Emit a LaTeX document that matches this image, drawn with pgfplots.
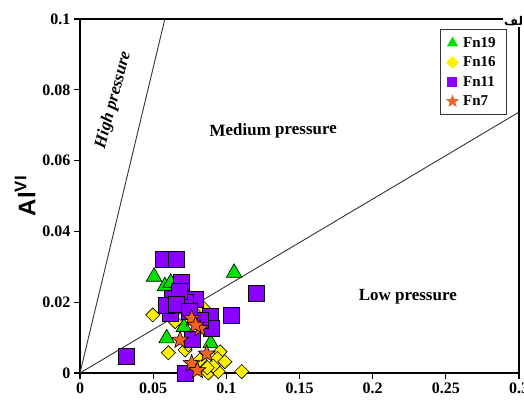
\documentclass[border=0pt]{standalone}
\usepackage{pgfplots}
\pgfplotsset{compat=1.18}
\usepackage{fontspec}
\setmainfont{Liberation Serif}
\newfontfamily\arialfont{Liberation Sans}
\newfontfamily\arabicfont[Script=Arabic]{DejaVu Sans}
\TeXXeTstate=1
\usetikzlibrary{plotmarks}
\definecolor{fgreen}{RGB}{0,225,0}
\definecolor{fyellow}{RGB}{255,240,0}
\definecolor{fpurple}{RGB}{140,0,255}
\definecolor{forange}{RGB}{240,100,30}
\pgfdeclareplotmark{fstar}{%
  \pgfpathmoveto{\pgfpointpolar{90}{\pgfplotmarksize}}%
  \pgfpathlineto{\pgfpointpolar{126}{0.42\pgfplotmarksize}}%
  \pgfpathlineto{\pgfpointpolar{162}{\pgfplotmarksize}}%
  \pgfpathlineto{\pgfpointpolar{198}{0.42\pgfplotmarksize}}%
  \pgfpathlineto{\pgfpointpolar{234}{\pgfplotmarksize}}%
  \pgfpathlineto{\pgfpointpolar{270}{0.42\pgfplotmarksize}}%
  \pgfpathlineto{\pgfpointpolar{306}{\pgfplotmarksize}}%
  \pgfpathlineto{\pgfpointpolar{342}{0.42\pgfplotmarksize}}%
  \pgfpathlineto{\pgfpointpolar{18}{\pgfplotmarksize}}%
  \pgfpathlineto{\pgfpointpolar{54}{0.42\pgfplotmarksize}}%
  \pgfpathclose
  \pgfusepathqfillstroke}
\begin{document}
\begin{tikzpicture}
\begin{axis}[
  at={(0,0)}, anchor=south west,
  scale only axis, width=439pt, height=354pt,
  xmin=0, xmax=0.3, ymin=0, ymax=0.1,
  xtick={0,0.05,0.1,0.15,0.2,0.25,0.3},
  ytick={0,0.02,0.04,0.06,0.08,0.1},
  scaled ticks=false,
  /pgf/number format/fixed,
  /pgf/number format/precision=2,
  /pgf/number format/assume math mode=true,
  ticklabel style={font=\fontsize{16}{18}\selectfont\bfseries},
  xtick pos=bottom, ytick pos=left,
  tick align=outside,
  major tick length=6pt,
  tick style={line width=1.2pt, black},
  axis line style={line width=1.4pt},
  clip=false,
  ylabel={Al\textsuperscript{VI}},
  ylabel style={font=\arialfont\bfseries\fontsize{24}{26}\selectfont, at={(axis description cs:-0.125,0.5)}, anchor=center, rotate=0},
  legend cell align=left,
  legend style={at={(0.973,0.972)}, anchor=north east, draw=black!80, line width=1pt,
    font=\fontsize{15}{17}\selectfont\bfseries, row sep=4pt, inner xsep=6pt, inner ysep=6pt,
    nodes={inner xsep=5pt}},
]
% boundary lines
\addplot[black!80, line width=0.9pt, forget plot] coordinates {(0,0) (0.058,0.1)};
\addplot[black!80, line width=0.9pt, forget plot] coordinates {(0,0) (0.3,0.0737)};

\addlegendimage{only marks, mark=triangle*, mark size=5.5pt, mark options={fill=fgreen, draw=fgreen}}
\addlegendentry{Fn19}
\addlegendimage{only marks, mark=square*, mark size=4pt, mark options={rotate=45, fill=fyellow, draw=fyellow}}
\addlegendentry{Fn16}
\addlegendimage{only marks, mark=square*, mark size=4.5pt, mark options={fill=fpurple, draw=fpurple}}
\addlegendentry{Fn11}
\addlegendimage{only marks, mark=fstar, mark size=5.5pt, mark options={fill=forange, draw=forange}}
\addlegendentry{Fn7}

% Fn19
\addplot[only marks, mark=triangle*, mark size=9pt, mark options={fill=fgreen, draw=black, line width=0.6pt}, forget plot] coordinates {
(0.0506,0.0272) (0.1053,0.0283) (0.0592,0.0098) (0.058,0.0245) (0.071,0.013) (0.0893,0.0084) (0.073,0.022) (0.062,0.0255)
};
% Fn16
\addplot[only marks, mark=square*, mark size=5pt, mark options={rotate=45, fill=fyellow, draw=black, line width=0.6pt}, forget plot] coordinates {
(0.0497,0.0164) (0.0604,0.0057) (0.0718,0.0065) (0.065,0.0145) (0.084,0.0185) (0.0957,0.006) (0.0939,0.0041) (0.099,0.0032) (0.0877,0.0) (0.0945,0.0004) (0.1105,0.0004) (0.082,0.0037) (0.091,0.002) (0.074,0.008) (0.087,0.0015)
};
% Fn11
\addplot[only marks, mark=square*, mark size=8pt, mark options={fill=fpurple, draw=black, line width=0.6pt}, forget plot] coordinates {
(0.0314,0.0048) (0.057,0.032) (0.0656,0.0321) (0.069,0.0255) (0.063,0.021) (0.0786,0.0208) (0.072,0.020) (0.0615,0.017) (0.0588,0.0192) (0.0889,0.0159) (0.1032,0.0164) (0.1203,0.0225) (0.090,0.0126) (0.077,0.0095) (0.0718,0.0) (0.068,0.023) (0.082,0.015) (0.066,0.0195) (0.075,0.0175)
};
% Fn7
\addplot[only marks, mark=fstar, mark size=9pt, mark options={fill=forange, draw=black, line width=0.6pt}, forget plot] coordinates {
(0.0763,0.0154) (0.082,0.0126) (0.0684,0.0093) (0.0866,0.0054) (0.0763,0.0027) (0.0802,0.0007) (0.079,0.0135)
};

\node[font=\fontsize{17}{19}\selectfont\bfseries\itshape, rotate=75] at (axis cs:0.0229,0.0771) {High pressure};
\node[font=\fontsize{17}{19}\selectfont\bfseries, rotate=1] at (axis cs:0.132,0.0684) {Medium pressure};
\node[font=\fontsize{17}{19}\selectfont\bfseries] at (axis cs:0.224,0.0215) {Low pressure};
\node[anchor=west, fill=white, inner sep=1pt, font=\arabicfont\bfseries\fontsize{12}{12}\selectfont] at ([xshift=-16pt,yshift=-2pt]rel axis cs:1,1) {\beginR الف\endR};
\end{axis}
\pgfresetboundingbox
\path[use as bounding box] (-80pt,-30pt) rectangle (444pt,373pt);
\end{tikzpicture}
\end{document}
